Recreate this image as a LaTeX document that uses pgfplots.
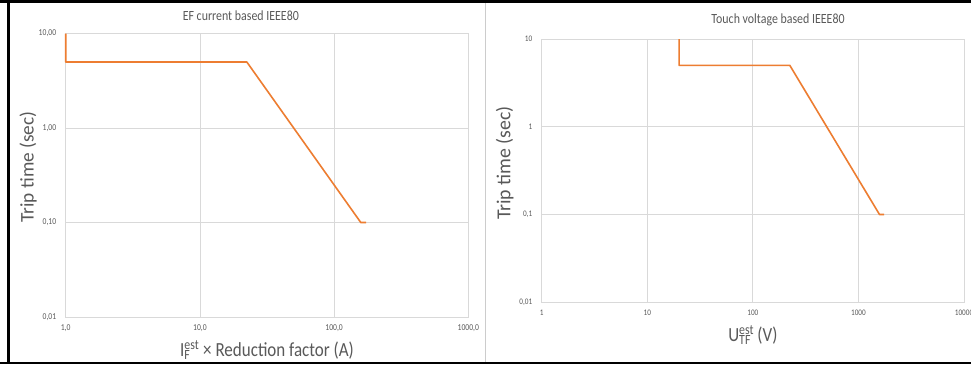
\documentclass[border=0pt]{standalone}
\usepackage{fontspec}
\setmainfont{Carlito}[FakeStretch=0.85]
\newfontfamily\ylabfont{Carlito}
\usepackage{pgfplots}
\pgfplotsset{compat=1.18}
\definecolor{txt}{HTML}{595959}
\definecolor{grd}{HTML}{D9D9D9}
\definecolor{org}{HTML}{ED7D31}
\pgfplotsset{excel/.style={
  scale only axis, anchor=south west,
  axis line style={grd, line width=0.8pt},
  grid=major, major grid style={grd, line width=0.8pt},
  tick style={draw=none},
  clip=false, /pgf/number format/assume math mode=true,
  xticklabel style={text=txt, yshift=-4pt}, yticklabel style={text=txt, xshift=-6pt},
  xlabel style={text=txt, font=\fontsize{20}{24}\selectfont, anchor=center},
  ylabel style={text=txt, font=\ylabfont\fontsize{19.3}{23}\selectfont, anchor=center},
}}
\begin{document}
\begin{tikzpicture}[x=1pt,y=1pt]
\fill[white] (0,0) rectangle (971,364);
% frame
\fill[black] (0,361) rectangle (971,364);
\fill[black] (0,0) rectangle (971,2.3);
\fill[black] (7,0) rectangle (10,364);
\draw[gray!40, line width=0.8pt] (485,2.3) -- (485,361);

\begin{axis}[xmode=log, ymode=log, excel,
  at={(65.7pt,47pt)}, width=402.6pt, height=283.5pt,
  xmin=1, xmax=1000, ymin=0.01, ymax=10,
  xtick={1,10,100,1000}, xticklabels={{1,0},{10,0},{100,0},{1000,0}},
  ytick={0.01,0.1,1,10}, yticklabels={{0,01},{0,10},{1,00},{10,00}},
  minor xtick={}, minor ytick={},
  tick label style={font=\fontsize{9}{10}\selectfont},
  title={EF current based IEEE80},
  title style={text=txt, font=\fontsize{14}{16}\selectfont, at={([yshift=11.5pt]axis description cs:0.435,1)}, anchor=center},
  xlabel={I\rlap{\textsubscript{F}}\textsuperscript{est} × Reduction factor (A)},
  xlabel style={at={([yshift=-33pt]axis description cs:0.5,0)}},
  ylabel={Trip time (sec)},
  ylabel style={at={([xshift=-37.7pt]axis description cs:0,0.529)}},
]
\addplot[org, line width=1.6pt, line join=round] coordinates {
  (1,10) (1,5) (22.36,5) (158.1,0.1) (173,0.1)
};
\end{axis}

\begin{axis}[xmode=log, ymode=log, excel,
  at={(541.7pt,61.7pt)}, width=422.3pt, height=263.3pt,
  xmin=1, xmax=10000, ymin=0.01, ymax=10,
  xtick={1,10,100,1000,10000}, xticklabels={1,10,100,1000,10000},
  ytick={0.01,0.1,1,10}, yticklabels={{0,01},{0,1},1,10},
  minor xtick={}, minor ytick={},
  tick label style={font=\fontsize{8.5}{10}\selectfont},
  title={Touch voltage based IEEE80},
  title style={text=txt, font=\fontsize{14}{16}\selectfont, at={([yshift=13.5pt]axis description cs:0.5596,1)}, anchor=center},
  xlabel={U\rlap{\textsubscript{TF}}\textsuperscript{est}\,(V)},
  xlabel style={at={([yshift=-32.7pt]axis description cs:0.5,0)}},
  ylabel={Trip time (sec)},
  ylabel style={font=\ylabfont\fontsize{19.8}{23}\selectfont, at={([xshift=-37pt]axis description cs:0,0.529)}},
]
\addplot[org, line width=1.6pt, line join=round] coordinates {
  (20,10) (20,5) (224,5) (1584,0.1) (1750,0.1)
};
\end{axis}
\pgfresetboundingbox
\path[use as bounding box] (0,0) rectangle (971,364);
\end{tikzpicture}
\end{document}
